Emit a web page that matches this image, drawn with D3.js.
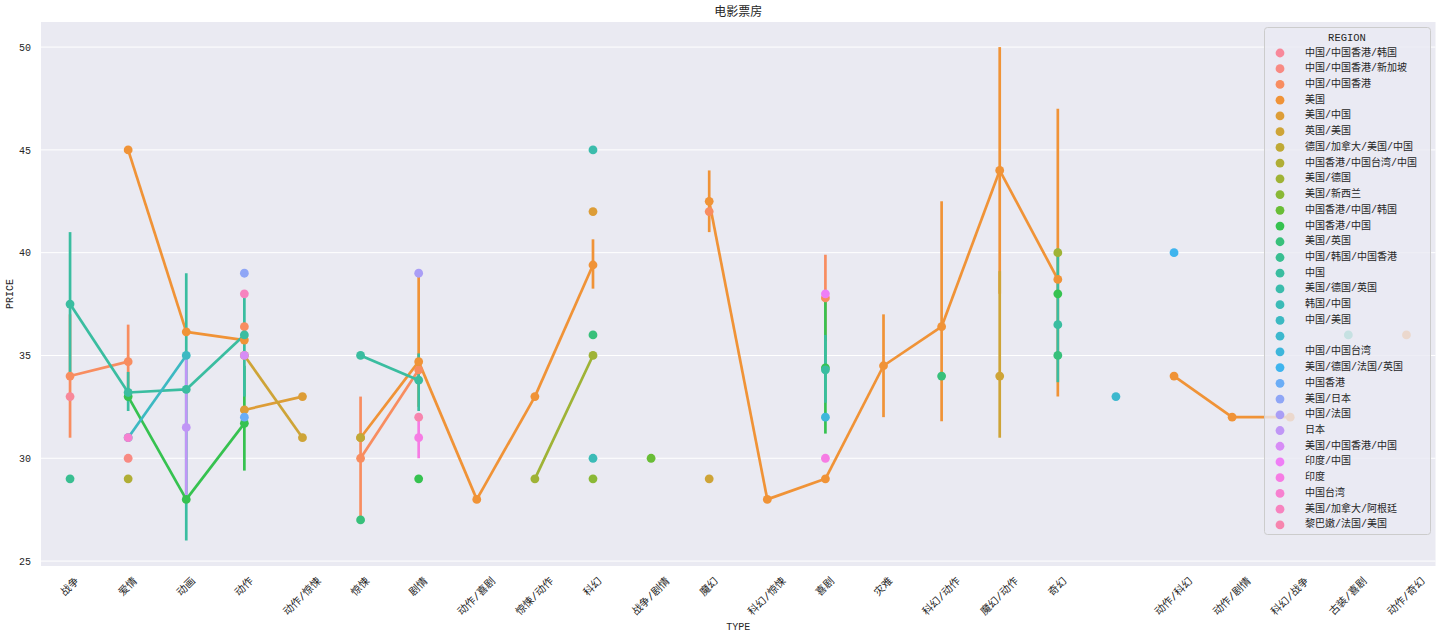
<!DOCTYPE html>
<html><head><meta charset="utf-8">
<script src="https://cdn.jsdelivr.net/npm/d3@7"></script>
<style>
html,body{margin:0;padding:0;background:#fff;}
text{font-family:"Liberation Mono","Noto Sans CJK SC",sans-serif;fill:#262626;}
</style></head>
<body><svg id="chart" width="1440" height="633"></svg>
<script>
// ---- data ----
const types = ["战争","爱情","动画","动作","动作/惊悚","惊悚","剧情","动作/喜剧","惊悚/动作","科幻","战争/剧情","魔幻","科幻/惊悚","喜剧","灾难","科幻/动作","魔幻/动作","奇幻","","动作/科幻","动作/剧情","科幻/战争","古装/喜剧","动作/奇幻"];
const regions = ["中国/中国香港/韩国","中国/中国香港/新加坡","中国/中国香港","美国","美国/中国","英国/美国","德国/加拿大/美国/中国","中国香港/中国台湾/中国","美国/德国","美国/新西兰","中国香港/中国/韩国","中国香港/中国","美国/英国","中国/韩国/中国香港","中国","美国/德国/英国","韩国/中国","中国/美国","","中国/中国台湾","美国/德国/法国/英国","中国香港","美国/日本","中国/法国","日本","美国/中国香港/中国","印度/中国","印度","中国台湾","美国/加拿大/阿根廷","黎巴嫩/法国/美国"];
const yTicks = [25,30,35,40,45,50];
// [type, region, mean price, ci low, ci high]
const points = [
["战争","中国/中国香港/韩国",33,null,null],
["战争","中国/中国香港",34,31,37],
["战争","中国",37.5,34,41],
["战争","中国/韩国/中国香港",29,null,null],
["爱情","美国",45,null,null],
["爱情","中国/中国香港",34.7,32.9,36.5],
["爱情","中国",33.2,32.3,34.2],
["爱情","中国香港/中国",33,null,null],
["爱情","中国/美国",31,null,null],
["爱情","中国台湾",31,null,null],
["爱情","中国/中国香港/新加坡",30,null,null],
["爱情","中国香港/中国台湾/中国",29,null,null],
["动画","美国",36.15,null,null],
["动画","中国",33.35,26,39],
["动画","中国/美国",35,null,null],
["动画","日本",31.5,28.1,35],
["动画","中国香港/中国",28,null,null],
["动作","美国/日本",39,null,null],
["动作","美国/加拿大/阿根廷",38,null,null],
["动作","中国/中国香港",36.4,null,null],
["动作","美国",35.75,null,null],
["动作","中国",36,33,38],
["动作","英国/美国",35,null,null],
["动作","美国/中国香港/中国",35,null,null],
["动作","美国/中国",32.35,null,null],
["动作","中国香港",32,null,null],
["动作","中国香港/中国",31.7,29.4,34.5],
["动作/惊悚","美国/中国",33,null,null],
["动作/惊悚","英国/美国",31,null,null],
["惊悚","中国",35,null,null],
["惊悚","美国",31,null,null],
["惊悚","德国/加拿大/美国/中国",31,null,null],
["惊悚","中国/中国香港",30,27,33],
["惊悚","美国/英国",27,null,null],
["剧情","中国/法国",39,null,null],
["剧情","美国",34.7,32.5,39],
["剧情","中国/中国香港",34.3,null,null],
["剧情","中国",33.8,32.3,35.1],
["剧情","黎巴嫩/法国/美国",32,null,null],
["剧情","印度",31,30,32],
["剧情","中国香港/中国",29,null,null],
["动作/喜剧","美国",28,null,null],
["惊悚/动作","美国",33,null,null],
["惊悚/动作","美国/德国",29,null,null],
["科幻","美国/德国/英国",45,null,null],
["科幻","美国/中国",42,null,null],
["科幻","美国",39.4,38.25,40.65],
["科幻","美国/英国",36,null,null],
["科幻","美国/德国",35,null,null],
["科幻","韩国/中国",30,null,null],
["科幻","美国/新西兰",29,null,null],
["战争/剧情","中国香港/中国/韩国",30,null,null],
["魔幻","美国",42.5,41,44],
["魔幻","中国/中国香港",42,null,null],
["魔幻","英国/美国",29,null,null],
["科幻/惊悚","美国",28,null,null],
["喜剧","中国/中国香港",37.8,35.7,39.9],
["喜剧","印度/中国",38,null,null],
["喜剧","中国香港/中国",34.4,31.2,37.7],
["喜剧","中国",34.3,32.7,36],
["喜剧","中国/中国台湾",32,null,null],
["喜剧","印度",30,null,null],
["喜剧","美国",29,null,null],
["灾难","美国",34.5,32,37],
["科幻/动作","美国",36.4,31.8,42.5],
["科幻/动作","美国/英国",34,null,null],
["魔幻/动作","美国",44,38,50],
["魔幻/动作","英国/美国",34,31,39.1],
["奇幻","美国",38.7,33,47],
["奇幻","美国/德国",40,null,null],
["奇幻","中国香港/中国",38,null,null],
["奇幻","中国",36.5,33.7,40.2],
["奇幻","美国/英国",35,null,null],
["","",33,null,null],
["动作/科幻","美国/德国/法国/英国",40,null,null],
["动作/科幻","美国",34,null,null],
["动作/剧情","美国",32,null,null],
["科幻/战争","美国",32,null,null],
["古装/喜剧","中国",36,null,null],
["动作/奇幻","美国",36,null,null]
];

// ---- husl palette (seaborn categorical: husl_palette(n, l=.7)) ----
const M = [[3.240969941904521,-1.537383177570093,-0.498610760293],
           [-0.96924363628087,1.87596750150772,0.041555057407175],
           [0.055630079696993,-0.20397695888897,1.056971514242878]];
const refU = 0.19783000664283, refV = 0.46831999493879;
function maxChroma(L,H){
  const hr=H*Math.PI/180, sH=Math.sin(hr), cH=Math.cos(hr);
  const sub1=Math.pow(L+16,3)/1560896, sub2= sub1>0.008856?sub1:L/903.3;
  let res=Infinity;
  for(const [m1,m2,m3] of M){
    const top=(0.99915*m1+1.05122*m2+1.14460*m3)*sub2;
    const rb=0.86330*m3-0.17266*m2, lb=0.12949*m3-0.38848*m1;
    const bottom=(rb*sH+lb*cH)*sub2;
    for(const t of [0,1]){
      const C=L*(top-1.05122*t)/(bottom+0.17266*sH*t);
      if(C>0 && C<res) res=C;
    }
  }
  return res;
}
function huslToRgb(H,S,L){
  const C = maxChroma(L,H)/100*S;
  const hr=H*Math.PI/180, U=Math.cos(hr)*C, V=Math.sin(hr)*C;
  const t=(L+16)/116, Y = Math.pow(t,3)>0.0088564516?Math.pow(t,3):(116*t-16)/903.2962962;
  const vU=U/(13*L)+refU, vV=V/(13*L)+refV;
  const X = -(9*Y*vU)/((vU-4)*vV - vU*vV);
  const Z = (9*Y - 15*vV*Y - vV*X)/(3*vV);
  const rgb = M.map(r=>{
    let c=r[0]*X+r[1]*Y+r[2]*Z;
    c = c<=0.0031308?12.92*c:1.055*Math.pow(c,1/2.4)-0.055;
    return Math.round(Math.max(0,Math.min(1,c))*255);
  });
  return d3.rgb(rgb[0],rgb[1],rgb[2]).formatHex();
}
const n = regions.length;
const palette = d3.range(n).map(i=>{
  let h=(i/n+0.01)%1; return huslToRgb(h*359,0.9*99,0.7*99);
});
const color = d3.scaleOrdinal().domain(regions).range(palette);

// ---- layout ----
const svg = d3.select("#chart");
const L=41, R=1435.5, T=22, B=566;
const x = d3.scalePoint().domain(types).range([L,R]).padding(0.5);
const y = d3.scaleLinear().domain([24.76,51.22]).range([B,T]);

svg.append("rect").attr("x",L).attr("y",T).attr("width",R-L).attr("height",B-T).attr("fill","#eaeaf2");
svg.append("g").selectAll("line").data(yTicks).join("line")
  .attr("x1",L).attr("x2",R).attr("y1",d=>y(d)).attr("y2",d=>y(d))
  .attr("stroke","#fff").attr("stroke-width",1);

// y axis
const yAx = svg.append("g").attr("transform",`translate(${L},0)`)
  .call(d3.axisLeft(y).tickValues(yTicks).tickSize(0).tickPadding(10));
yAx.select(".domain").remove();
yAx.selectAll("text").attr("font-size",10).style("font-family",'"Liberation Mono","Noto Sans CJK SC"').attr("fill","#262626");

// x axis (rotated labels)
const xAx = svg.append("g").attr("transform",`translate(0,${B})`)
  .call(d3.axisBottom(x).tickSize(0).tickFormat(""));
xAx.select(".domain").remove();
const xl = svg.append("g");
types.forEach(t=>{
  if(!t) return;
  const tx = xl.append("text").text(t).attr("font-size",10.5)
    .attr("text-anchor","middle").attr("dominant-baseline","central");
  const w = tx.node().getComputedTextLength();
  const hb = (w+10)*Math.SQRT1_2;
  tx.attr("transform",`translate(${x(t)},${B+10+hb/2}) rotate(-45)`);
});

svg.append("text").text("TYPE").attr("x",(L+R)/2).attr("y",630).attr("text-anchor","middle").attr("font-size",10);
svg.append("text").text("PRICE").attr("transform",`translate(13,${(T+B)/2}) rotate(-90)`).attr("text-anchor","middle").attr("font-size",10);
svg.append("text").text("电影票房").attr("x",(L+R)/2).attr("y",16).attr("text-anchor","middle").attr("font-size",12);

// ---- marks ----
const ti = t=>types.indexOf(t);
const plot = svg.append("g");
const lineG = plot.append("g"), dotG = plot.append("g");
regions.forEach(r=>{
  const pts = points.filter(p=>p[1]===r).sort((a,b)=>ti(a[0])-ti(b[0]));
  const g = lineG.append("g").attr("stroke",color(r)).attr("stroke-width",2.7).attr("fill","none");
  for(let i=1;i<pts.length;i++){
    if(ti(pts[i][0])-ti(pts[i-1][0])===1){
      g.append("line").attr("x1",x(pts[i-1][0])).attr("y1",y(pts[i-1][2]))
        .attr("x2",x(pts[i][0])).attr("y2",y(pts[i][2]));
    }
  }
  pts.filter(p=>p[3]!=null).forEach(p=>{
    g.append("line").attr("x1",x(p[0])).attr("x2",x(p[0])).attr("y1",y(p[3])).attr("y2",y(p[4]));
  });
});
regions.forEach(r=>{
  dotG.append("g").selectAll("circle").data(points.filter(p=>p[1]===r)).join("circle")
    .attr("cx",p=>x(p[0])).attr("cy",p=>y(p[2])).attr("r",4.4).attr("fill",color(r));
});

// ---- legend ----
const lg = svg.append("g");
lg.append("rect").attr("x",1264.5).attr("y",27.5).attr("width",166).attr("height",507).attr("rx",3)
  .attr("fill","rgba(234,234,242,0.8)").attr("stroke","#cccccc");
lg.append("text").text("REGION").attr("x",1347).attr("y",41).attr("text-anchor","middle").attr("font-size",10.5);
regions.forEach((r,i)=>{
  const yy = 53 + i*15.73;
  lg.append("circle").attr("cx",1280).attr("cy",yy).attr("r",4.4).attr("fill",color(r));
  lg.append("text").text(r).attr("x",1305).attr("y",yy).attr("dominant-baseline","central").attr("font-size",10);
});
</script></body></html>
